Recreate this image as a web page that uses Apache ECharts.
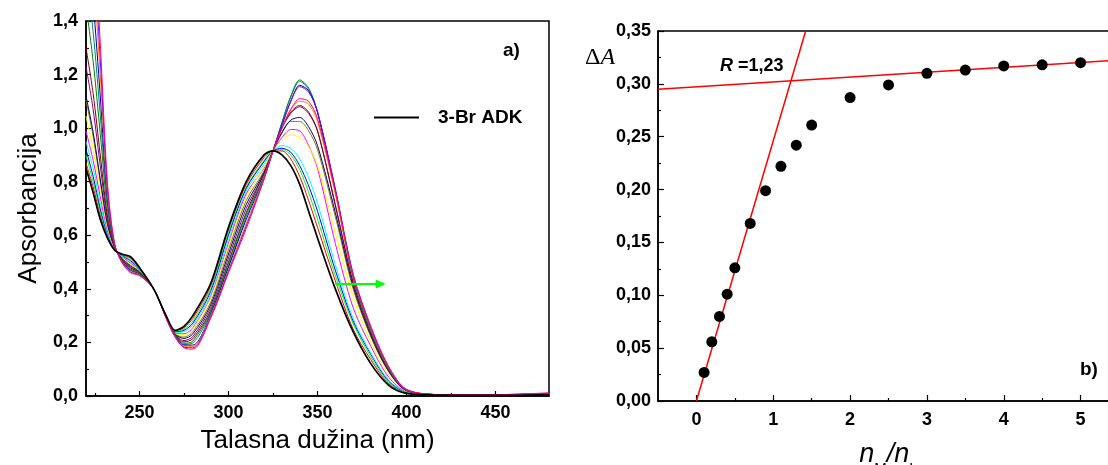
<!DOCTYPE html>
<html><head><meta charset="utf-8">
<script src="https://cdn.jsdelivr.net/npm/echarts@6/dist/echarts.min.js"></script>
<style>html,body{margin:0;padding:0;background:#fff}#c{width:1108px;height:465px}</style>
</head><body><div id="c"></div>
<script>
// ---------- Panel a) : absorption spectra ----------
const wavelengths = [220, 224, 228, 232, 236, 240, 245, 250, 258, 265, 270, 275, 280, 290, 300, 310, 320, 325, 330, 335, 340, 345, 350, 360, 370, 380, 390, 400, 420, 450, 480];
const curveNames = ['3-Br ADK', 'c2', 'c3', 'c4', 'c5', 'c6', 'c7', 'c8', 'c9', 'c10', 'c11', 'c12', 'c13', 'c14', 'c15', 'c16', 'c17'];
const curveColors = ['#000000', '#FF0000', '#00FF00', '#0000FF', '#00FFFF', '#FF00FF', '#FFFF00', '#808000', '#000080', '#800080', '#800000', '#008000', '#008080', '#0000A0', '#FF8000', '#8000FF', '#FF0080'];
const abs01 = [0.85, 0.76, 0.66, 0.59, 0.545, 0.53, 0.52, 0.48, 0.40, 0.30, 0.245, 0.26, 0.30, 0.42, 0.63, 0.80, 0.90, 0.915, 0.90, 0.86, 0.79, 0.69, 0.59, 0.40, 0.24, 0.12, 0.04, 0.01, 0.003, 0.002, 0.004];
const abs02 = [0.87, 0.78, 0.675, 0.595, 0.547, 0.528, 0.515, 0.477, 0.40, 0.30, 0.243, 0.255, 0.29, 0.41, 0.62, 0.79, 0.89, 0.915, 0.915, 0.885, 0.82, 0.73, 0.63, 0.43, 0.25, 0.135, 0.045, 0.012, 0.004, 0.003, 0.005];
const abs03 = [0.90, 0.80, 0.69, 0.60, 0.548, 0.526, 0.51, 0.475, 0.40, 0.299, 0.241, 0.25, 0.28, 0.40, 0.61, 0.78, 0.88, 0.915, 0.92, 0.90, 0.845, 0.76, 0.66, 0.45, 0.27, 0.145, 0.05, 0.013, 0.004, 0.003, 0.005];
const abs04 = [0.92, 0.82, 0.70, 0.605, 0.55, 0.524, 0.505, 0.473, 0.40, 0.299, 0.239, 0.245, 0.272, 0.39, 0.60, 0.775, 0.875, 0.915, 0.925, 0.91, 0.86, 0.785, 0.69, 0.47, 0.28, 0.155, 0.055, 0.014, 0.004, 0.003, 0.006];
const abs05 = [0.95, 0.85, 0.72, 0.61, 0.55, 0.522, 0.50, 0.471, 0.40, 0.298, 0.237, 0.24, 0.265, 0.38, 0.585, 0.765, 0.865, 0.915, 0.935, 0.925, 0.885, 0.815, 0.72, 0.49, 0.29, 0.16, 0.06, 0.015, 0.004, 0.003, 0.006];
const abs06 = [0.99, 0.88, 0.745, 0.62, 0.552, 0.52, 0.496, 0.469, 0.40, 0.298, 0.235, 0.232, 0.255, 0.37, 0.57, 0.755, 0.85, 0.915, 0.965, 0.995, 0.99, 0.935, 0.85, 0.57, 0.33, 0.185, 0.07, 0.017, 0.005, 0.004, 0.007];
const abs07 = [1.045, 0.92, 0.77, 0.63, 0.553, 0.518, 0.492, 0.467, 0.40, 0.297, 0.234, 0.228, 0.25, 0.365, 0.56, 0.745, 0.855, 0.915, 0.955, 0.975, 0.965, 0.93, 0.86, 0.61, 0.37, 0.20, 0.08, 0.018, 0.005, 0.004, 0.007];
const abs08 = [1.105, 0.97, 0.80, 0.64, 0.555, 0.516, 0.488, 0.465, 0.40, 0.297, 0.232, 0.22, 0.24, 0.35, 0.545, 0.73, 0.84, 0.915, 0.98, 1.025, 1.025, 0.99, 0.92, 0.67, 0.40, 0.22, 0.09, 0.02, 0.005, 0.004, 0.008];
const abs09 = [1.12, 0.985, 0.81, 0.645, 0.556, 0.514, 0.485, 0.463, 0.40, 0.296, 0.231, 0.215, 0.232, 0.34, 0.53, 0.715, 0.835, 0.915, 0.985, 1.03, 1.04, 1.005, 0.935, 0.685, 0.41, 0.225, 0.092, 0.02, 0.005, 0.004, 0.008];
const abs10 = [1.23, 1.07, 0.86, 0.66, 0.558, 0.512, 0.481, 0.461, 0.40, 0.295, 0.23, 0.207, 0.222, 0.33, 0.515, 0.70, 0.83, 0.915, 1.0, 1.06, 1.085, 1.06, 0.99, 0.71, 0.42, 0.23, 0.095, 0.021, 0.005, 0.004, 0.008];
const abs11 = [1.30, 1.13, 0.90, 0.675, 0.56, 0.51, 0.478, 0.459, 0.40, 0.294, 0.229, 0.202, 0.214, 0.32, 0.50, 0.685, 0.83, 0.915, 1.0, 1.055, 1.08, 1.055, 0.99, 0.715, 0.425, 0.235, 0.097, 0.021, 0.005, 0.004, 0.009];
const abs12 = [1.46, 1.25, 0.98, 0.70, 0.562, 0.508, 0.475, 0.457, 0.40, 0.294, 0.228, 0.197, 0.205, 0.315, 0.495, 0.68, 0.82, 0.915, 1.02, 1.12, 1.18, 1.15, 1.06, 0.76, 0.44, 0.24, 0.10, 0.022, 0.005, 0.004, 0.009];
const abs13 = [1.58, 1.36, 1.05, 0.72, 0.564, 0.506, 0.472, 0.455, 0.40, 0.293, 0.227, 0.193, 0.198, 0.31, 0.485, 0.67, 0.82, 0.915, 1.02, 1.115, 1.175, 1.145, 1.06, 0.765, 0.445, 0.245, 0.102, 0.022, 0.005, 0.004, 0.009];
const abs14 = [1.72, 1.47, 1.12, 0.74, 0.566, 0.505, 0.469, 0.454, 0.40, 0.292, 0.226, 0.19, 0.19, 0.305, 0.48, 0.66, 0.815, 0.915, 1.01, 1.10, 1.16, 1.14, 1.06, 0.77, 0.45, 0.25, 0.105, 0.023, 0.005, 0.004, 0.01];
const abs15 = [1.85, 1.58, 1.20, 0.76, 0.567, 0.503, 0.466, 0.453, 0.40, 0.291, 0.224, 0.186, 0.185, 0.30, 0.47, 0.645, 0.815, 0.915, 1.0, 1.07, 1.10, 1.09, 1.025, 0.755, 0.45, 0.25, 0.105, 0.023, 0.005, 0.005, 0.01];
const abs16 = [1.98, 1.68, 1.26, 0.78, 0.568, 0.502, 0.463, 0.451, 0.40, 0.291, 0.222, 0.183, 0.18, 0.295, 0.465, 0.635, 0.81, 0.915, 1.01, 1.10, 1.155, 1.135, 1.06, 0.775, 0.455, 0.255, 0.108, 0.024, 0.005, 0.005, 0.01];
const abs17 = [2.10, 1.78, 1.32, 0.80, 0.57, 0.50, 0.46, 0.45, 0.40, 0.29, 0.22, 0.18, 0.175, 0.29, 0.46, 0.625, 0.81, 0.915, 1.0, 1.07, 1.11, 1.10, 1.035, 0.765, 0.455, 0.26, 0.11, 0.025, 0.005, 0.005, 0.012];
const spectra = [abs01, abs02, abs03, abs04, abs05, abs06, abs07, abs08, abs09, abs10, abs11, abs12, abs13, abs14, abs15, abs16, abs17];
const shiftArrow = [[360, 0.418], [385.5, 0.418]];
const leftXMajor = [250, 300, 350, 400, 450];
const leftXMinor = [225, 275, 325, 375, 425, 475];

// ---------- Panel b) : titration plot ----------
const xRatio = [0.1, 0.2, 0.3, 0.4, 0.5, 0.7, 0.9, 1.1, 1.3, 1.5, 2, 2.5, 3, 3.5, 4, 4.5, 5];
const deltaA = [0.027, 0.056, 0.080, 0.101, 0.126, 0.168, 0.199, 0.222, 0.242, 0.261, 0.287, 0.299, 0.310, 0.313, 0.317, 0.318, 0.320];
const fitRise = [[0, 0], [1.422, 0.35]];
const fitPlateau = [[-0.5, 0.2948], [5.5, 0.3226]];
const rightXMajor = [0, 1, 2, 3, 4, 5];
const rightXMinor = [0.5, 1.5, 2.5, 3.5, 4.5];

const FONT = 'Liberation Sans, Arial, sans-serif';
const comma = d => v => v.toFixed(d).replace('.', ',');
const lblStyle = { color: '#000', fontWeight: 'bold', fontSize: 18, fontFamily: FONT };
const axisLineStyle = { show: true, onZero: false, lineStyle: { color: '#000', width: 1.5 } };

const series = spectra.map((arr, i) => ({
  name: curveNames[i], type: 'line', xAxisIndex: 0, yAxisIndex: 0,
  data: wavelengths.map((w, j) => [w, arr[j]]),
  symbol: 'none', smooth: 0.3, clip: true,
  lineStyle: { color: curveColors[i], width: i === 0 ? 1.7 : 1 },
  itemStyle: { color: curveColors[i] },
  z: i === 0 ? 3 : 2, silent: true
}));
series.push({
  name: 'arrow', type: 'line', xAxisIndex: 0, yAxisIndex: 0, data: [], symbol: 'none',
  markLine: {
    silent: true, symbol: ['none', 'triangle'], symbolSize: [9, 10],
    label: { show: false },
    lineStyle: { color: '#00FF00', width: 2.2, type: 'solid' },
    data: [[{ coord: shiftArrow[0] }, { coord: shiftArrow[1] }]]
  }
});
series.push({
  name: 'fitRise', type: 'line', xAxisIndex: 2, yAxisIndex: 1, data: fitRise,
  symbol: 'none', clip: true, lineStyle: { color: '#FF0000', width: 1.5 }, z: 2
});
series.push({
  name: 'fitPlateau', type: 'line', xAxisIndex: 2, yAxisIndex: 1, data: fitPlateau,
  symbol: 'none', clip: true, lineStyle: { color: '#FF0000', width: 1.5 }, z: 2
});
series.push({
  name: 'deltaA', type: 'scatter', xAxisIndex: 2, yAxisIndex: 1,
  data: xRatio.map((x, i) => [x, deltaA[i]]),
  symbol: 'circle', symbolSize: 11, itemStyle: { color: '#000', opacity: 1 }, z: 3
});

const option = {
  backgroundColor: '#fff',
  animation: false,
  legend: {
    data: ['3-Br ADK'], left: 369, top: 103, itemWidth: 45, itemHeight: 2,
    icon: 'rect',
    itemStyle: { color: '#000' },
    textStyle: { color: '#000', fontWeight: 'bold', fontSize: 19, fontFamily: FONT, padding: [0, 0, 0, 14] },
    selectedMode: false
  },
  grid: [
    { left: 86, right: 559, top: 21, bottom: 69, show: true, borderColor: '#000', borderWidth: 1.5, containLabel: false, outerBoundsMode: 'none' },
    { left: 658, right: -11, top: 31, bottom: 64, show: true, borderColor: '#000', borderWidth: 1.5, containLabel: false, outerBoundsMode: 'none' }
  ],
  xAxis: [
    {
      type: 'value', gridIndex: 0, min: 220, max: 480, position: 'bottom',
      name: 'Talasna dužina (nm)', nameLocation: 'middle', nameGap: 32,
      nameTextStyle: { color: '#000', fontSize: 26, fontFamily: FONT },
      axisLine: axisLineStyle,
      axisTick: { show: true, inside: true, length: 5, customValues: leftXMajor, lineStyle: { color: '#000', width: 1.2 } },
      axisLabel: Object.assign({ margin: 8, customValues: leftXMajor }, lblStyle),
      splitLine: { show: false }
    },
    {
      type: 'value', gridIndex: 0, min: 220, max: 480, position: 'bottom',
      axisLine: { show: false },
      axisTick: { show: true, inside: true, length: 3, customValues: leftXMinor, lineStyle: { color: '#000', width: 1.2 } },
      axisLabel: { show: false, customValues: leftXMinor },
      splitLine: { show: false }
    },
    {
      type: 'value', gridIndex: 1, min: -0.5, max: 5.5, position: 'bottom',
      name: '{i|n}{s|M}{i|/n}{s|L}', nameLocation: 'middle', nameGap: 40,
      nameTextStyle: {
        color: '#000', fontFamily: FONT,
        rich: {
          i: { fontStyle: 'italic', fontSize: 27, fontFamily: FONT, color: '#000', lineHeight: 27, verticalAlign: 'top' },
          s: { fontSize: 15, fontFamily: FONT, color: '#000', lineHeight: 35, verticalAlign: 'bottom' }
        }
      },
      axisLine: axisLineStyle,
      axisTick: { show: true, inside: true, length: 6, customValues: rightXMajor, lineStyle: { color: '#000', width: 1.2 } },
      axisLabel: Object.assign({ margin: 10, customValues: rightXMajor }, lblStyle),
      splitLine: { show: false }
    },
    {
      type: 'value', gridIndex: 1, min: -0.5, max: 5.5, position: 'bottom',
      axisLine: { show: false },
      axisTick: { show: true, inside: true, length: 3, customValues: rightXMinor, lineStyle: { color: '#000', width: 1.2 } },
      axisLabel: { show: false, customValues: rightXMinor },
      splitLine: { show: false }
    }
  ],
  yAxis: [
    {
      type: 'value', gridIndex: 0, min: 0, max: 1.4, interval: 0.2,
      name: 'Apsorbancija', nameLocation: 'middle', nameGap: 44,
      nameTextStyle: { color: '#000', fontSize: 26, fontFamily: FONT },
      axisLine: axisLineStyle,
      axisTick: { show: true, inside: true, length: 5, lineStyle: { color: '#000', width: 1.2 } },
      minorTick: { show: true, splitNumber: 2, length: 3, lineStyle: { color: '#000', width: 1.2 } },
      axisLabel: Object.assign({ margin: 8, formatter: comma(1) }, lblStyle),
      splitLine: { show: false }
    },
    {
      type: 'value', gridIndex: 1, min: 0, max: 0.35, interval: 0.05,
      axisLine: axisLineStyle,
      axisTick: { show: true, inside: true, length: 6, lineStyle: { color: '#000', width: 1.2 } },
      minorTick: { show: true, splitNumber: 2, length: 3, lineStyle: { color: '#000', width: 1.2 } },
      axisLabel: Object.assign({ margin: 7, formatter: comma(2) }, lblStyle),
      splitLine: { show: false }
    }
  ],
  graphic: [
    { type: 'text', left: 503, top: 41, style: { text: 'a)', fill: '#000', font: 'bold 19px ' + FONT } },
    { type: 'text', left: 1080, top: 360, style: { text: 'b)', fill: '#000', font: 'bold 19px ' + FONT } },
    {
      type: 'text', left: 720, top: 57,
      style: {
        text: '{r|R} =1,23', fill: '#000', font: 'bold 18px ' + FONT,
        rich: { r: { fontStyle: 'italic', fontWeight: 'bold', fontSize: 18, fontFamily: FONT, fill: '#000' } }
      }
    },
    {
      type: 'text', left: 585, top: 46,
      style: {
        text: '{d|Δ}{a|A}', fill: '#000', font: '24px Liberation Serif, serif',
        rich: {
          d: { fontSize: 24, fontFamily: 'Liberation Serif, serif', fill: '#000' },
          a: { fontSize: 24, fontStyle: 'italic', fontFamily: 'Liberation Serif, serif', fill: '#000' }
        }
      }
    }
  ],
  series: series
};

const chart = echarts.init(document.getElementById('c'), null, { renderer: 'canvas' });
chart.setOption(option);
</script>
</body></html>
